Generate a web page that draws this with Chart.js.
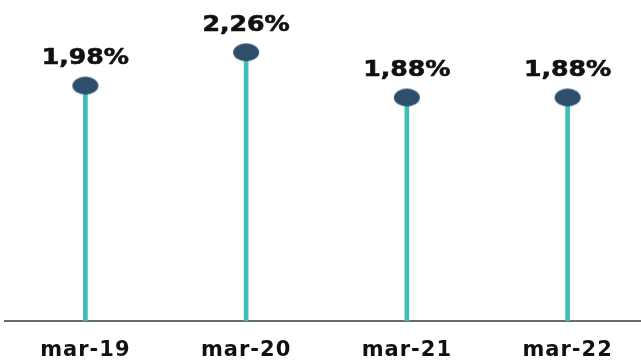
<!DOCTYPE html>
<html>
<head>
<meta charset="utf-8">
<script src="https://cdn.jsdelivr.net/npm/chart.js@4/dist/chart.umd.min.js"></script>
<style>
html,body{margin:0;padding:0;background:#fff;overflow:hidden;}
#wrap{width:641px;height:360px;position:relative;overflow:hidden;}
canvas{position:absolute;left:0;top:0;}
</style>
</head>
<body>
<div id="wrap"><canvas id="c" width="648" height="360"></canvas></div>
<script>
const categories = ["mar-19", "mar-20", "mar-21", "mar-22"];
const values = [1.98, 2.26, 1.88, 1.88];
const valueLabels = ["1,98%", "2,26%", "1,88%", "1,88%"];

const stemColor = "#3BBFB6";
const markerColor = "#2D4F6C";

// ellipse marker
const mk = document.createElement("canvas");
mk.width = 28; mk.height = 20;
const mctx = mk.getContext("2d");
mctx.fillStyle = markerColor;
mctx.beginPath();
mctx.ellipse(14, 10, 13, 9, 0, 0, Math.PI * 2);
mctx.fill();

const spacingPlugin = {
  id: "spacing",
  beforeDraw(chart) { chart.ctx.letterSpacing = "1px"; },
  afterDraw(chart) { chart.ctx.letterSpacing = "0px"; }
};

const labelPlugin = {
  id: "valueLabels",
  afterDatasetsDraw(chart) {
    const meta = chart.getDatasetMeta(1);
    const ctx = chart.ctx;
    meta.data.forEach((pt, i) => {
      ctx.save();
      ctx.letterSpacing = "0px";
      ctx.font = "bold 21px 'DejaVu Sans'";
      ctx.fillStyle = "#111111";
      ctx.strokeStyle = "#111111";
      ctx.lineWidth = 0.6;
      ctx.textAlign = "center";
      ctx.textBaseline = "middle";
      ctx.translate(pt.x, pt.y - 27);
      ctx.scale(1.2, 1);
      ctx.fillText(valueLabels[i], 0, 0);
      ctx.strokeText(valueLabels[i], 0, 0);
      ctx.restore();
    });
  }
};

new Chart(document.getElementById("c"), {
  data: {
    labels: categories,
    datasets: [
      {
        type: "bar",
        data: values,
        backgroundColor: stemColor,
        barThickness: 4,
        order: 2
      },
      {
        type: "line",
        data: values,
        showLine: false,
        pointStyle: mk,
        pointRadius: 11,
        pointHoverRadius: 11,
        order: 1
      }
    ]
  },
  options: {
    responsive: false,
    animation: false,
    events: [],
    layout: { autoPadding: false, padding: { left: 5, right: 0, top: 0, bottom: 0 } },
    plugins: { legend: { display: false }, tooltip: { enabled: false } },
    scales: {
      x: {
        grid: { display: false, drawTicks: false },
        border: { display: true, color: "#6a6a6a", width: 2 },
        afterFit(scale) { scale.height = 39; },
        ticks: {
          color: "#111111",
          padding: 17,
          font: { family: "'DejaVu Sans'", size: 21, weight: "bold" }
        }
      },
      y: {
        display: false,
        min: 0,
        max: 2.7
      }
    }
  },
  plugins: [spacingPlugin, labelPlugin]
});
</script>
</body>
</html>
